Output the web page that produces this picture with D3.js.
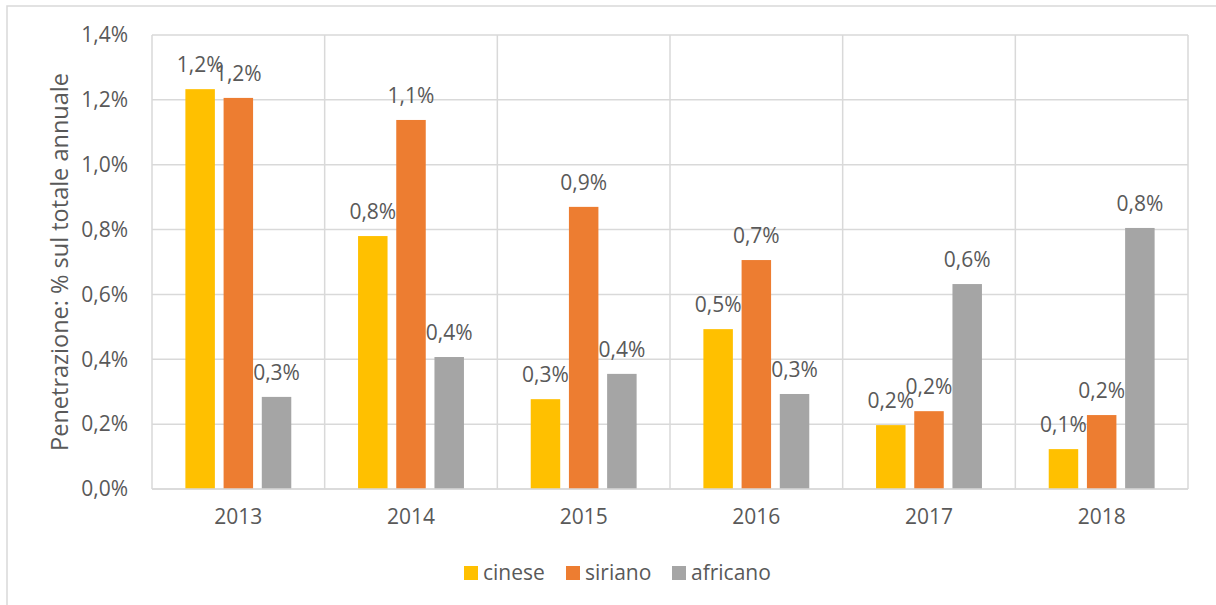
<!DOCTYPE html>
<html><head><meta charset="utf-8">
<script src="https://cdn.jsdelivr.net/npm/d3@7"></script>
<style>body{margin:0;background:#fff}svg{display:block}</style>
</head><body>
<script>
const categories = ["2013","2014","2015","2016","2017","2018"];
const seriesNames = ["cinese","siriano","africano"];
const cinese   = [1.233, 0.780, 0.277, 0.493, 0.197, 0.123];
const siriano  = [1.206, 1.138, 0.870, 0.706, 0.240, 0.228];
const africano = [0.284, 0.407, 0.355, 0.293, 0.632, 0.805];
const yTicks = [0, 0.2, 0.4, 0.6, 0.8, 1.0, 1.2, 1.4];
const colors = ["#FFC000", "#ED7D31", "#A5A5A5"];
const yTitle = "Penetrazione: % sul totale annuale";

const W = 1216, H = 605;
const m = {left: 152, right: 1188, top: 35, bottom: 489};
const font = "'Open Sans', sans-serif";
const textCol = "#595959";
const gridCol = "#d9d9d9";
const fs = 21;

const svg = d3.select("body").append("svg").attr("width", W).attr("height", H);
svg.append("rect").attr("x", 7).attr("y", 6).attr("width", W).attr("height", H)
  .attr("fill", "#fff").attr("stroke", gridCol).attr("stroke-width", 1.5);

const x0 = d3.scaleBand().domain(categories).range([m.left, m.right]);
const x1 = d3.scaleBand().domain(seriesNames).range([0, x0.bandwidth()])
  .paddingInner(0.228).paddingOuter(0.874);
const y = d3.scaleLinear().domain([0, 1.4]).range([m.bottom, m.top]);

const fmt = v => v.toFixed(1).replace(".", ",") + "%";

// horizontal grid
svg.append("g").selectAll("line").data(yTicks).join("line")
  .attr("x1", m.left).attr("x2", m.right)
  .attr("y1", d => y(d)).attr("y2", d => y(d))
  .attr("stroke", gridCol).attr("stroke-width", 1.5);
// vertical grid at category boundaries
const bounds = categories.map(c => x0(c)).concat([m.right]);
svg.append("g").selectAll("line").data(bounds).join("line")
  .attr("x1", d => d).attr("x2", d => d)
  .attr("y1", m.top).attr("y2", m.bottom)
  .attr("stroke", gridCol).attr("stroke-width", 1.5);

// y axis labels
const yAxis = d3.axisLeft(y).tickValues(yTicks).tickFormat(fmt).tickSize(0).tickPadding(24);
const gy = svg.append("g").attr("transform", `translate(${m.left},0)`).call(yAxis);
gy.select(".domain").remove();
gy.selectAll("text").attr("font-family", font).attr("font-size", fs).attr("fill", textCol);

// x axis labels
const xAxis = d3.axisBottom(x0).tickSize(0).tickPadding(20);
const gx = svg.append("g").attr("transform", `translate(0,${m.bottom})`).call(xAxis);
gx.select(".domain").remove();
gx.selectAll("text").attr("font-family", font).attr("font-size", fs).attr("fill", textCol);

// bars
const seriesVals = [cinese, siriano, africano];
const data = [];
categories.forEach((c, i) => seriesNames.forEach((s, j) => data.push({c, s, j, v: seriesVals[j][i]})));
svg.append("g").selectAll("rect").data(data).join("rect")
  .attr("x", d => x0(d.c) + x1(d.s)).attr("width", x1.bandwidth())
  .attr("y", d => y(d.v)).attr("height", d => y(0) - y(d.v))
  .attr("fill", d => colors[d.j]);

// data labels
svg.append("g").selectAll("text").data(data).join("text")
  .attr("x", d => x0(d.c) + x1(d.s) + x1.bandwidth() / 2)
  .attr("y", d => y(d.v) - 17)
  .attr("text-anchor", "middle")
  .attr("font-family", font).attr("font-size", fs).attr("fill", textCol)
  .text(d => fmt(d.v));

// baseline
svg.append("line").attr("x1", m.left).attr("x2", m.right)
  .attr("y1", y(0)).attr("y2", y(0)).attr("stroke", gridCol).attr("stroke-width", 1.5);

// y title
svg.append("text")
  .attr("transform", `translate(68,${(m.top + m.bottom) / 2}) rotate(-90)`)
  .attr("text-anchor", "middle")
  .attr("font-family", font).attr("font-size", 23.5).attr("fill", textCol)
  .text(yTitle);

// legend
const legX = [464, 566, 672];
const leg = svg.append("g").selectAll("g").data(seriesNames).join("g")
  .attr("transform", (d, i) => `translate(${legX[i]},566)`);
leg.append("rect").attr("width", 14).attr("height", 14).attr("fill", (d, i) => colors[i]);
leg.append("text").attr("x", 19).attr("y", 14)
  .attr("font-family", font).attr("font-size", fs).attr("fill", textCol).text(d => d);
</script>
</body></html>
